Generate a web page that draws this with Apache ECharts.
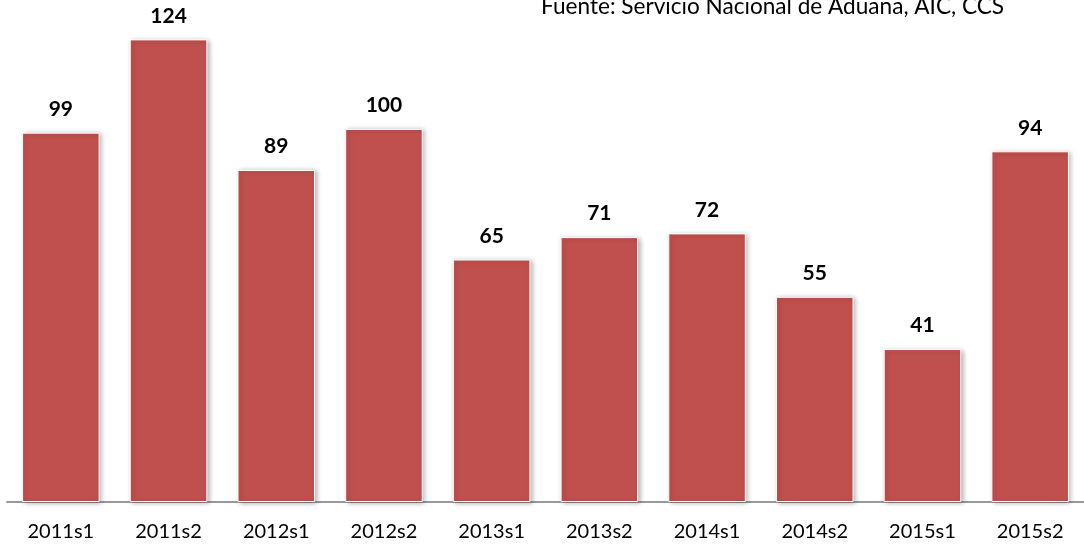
<!DOCTYPE html>
<html>
<head>
<meta charset="utf-8">
<script src="https://cdn.jsdelivr.net/npm/echarts@6/dist/echarts.min.js"></script>
<style>html,body{margin:0;padding:0;background:#fff}#c{width:1084px;height:546px}</style>
</head>
<body>
<div id="c"></div>
<script>
const categories = ['2011s1','2011s2','2012s1','2012s2','2013s1','2013s2','2014s1','2014s2','2015s1','2015s2'];
const values = [99,124,89,100,65,71,72,55,41,94];
const sourceText = 'Fuente: Servicio Nacional de Aduana, AIC, CCS';

const chart = echarts.init(document.getElementById('c'));
chart.setOption({
  animation: false,
  grid: {left: 7, right: -3, top: 17, bottom: 44, containLabel: false},
  xAxis: {
    type: 'category',
    data: categories,
    axisLine: {lineStyle: {color: '#999', width: 2}},
    axisTick: {show: false},
    axisLabel: {color: '#000', fontSize: 20, fontFamily: 'Lato, "Open Sans", sans-serif', margin: 20}
  },
  yAxis: {
    type: 'value', min: 0, max: 130,
    show: false, splitLine: {show: false}
  },
  series: [{
    type: 'bar',
    data: values,
    barWidth: '72%',
    itemStyle: {
      color: '#C0504D', borderColor: '#fff', borderWidth: 1,
      shadowBlur: 5, shadowColor: 'rgba(0,0,0,0.3)', shadowOffsetX: 2, shadowOffsetY: 1
    },
    label: {
      show: true, position: 'top', distance: 13,
      color: '#000', fontSize: 21, fontWeight: 'bold', fontFamily: 'Lato, "Open Sans", sans-serif'
    }
  }],
  graphic: [{
    type: 'text', x: 541, y: 7,
    style: {text: sourceText, fontSize: 22.6, fill: '#000', verticalAlign: 'middle', fontFamily: 'Lato, "Open Sans", sans-serif'}
  }]
});
</script>
</body>
</html>
